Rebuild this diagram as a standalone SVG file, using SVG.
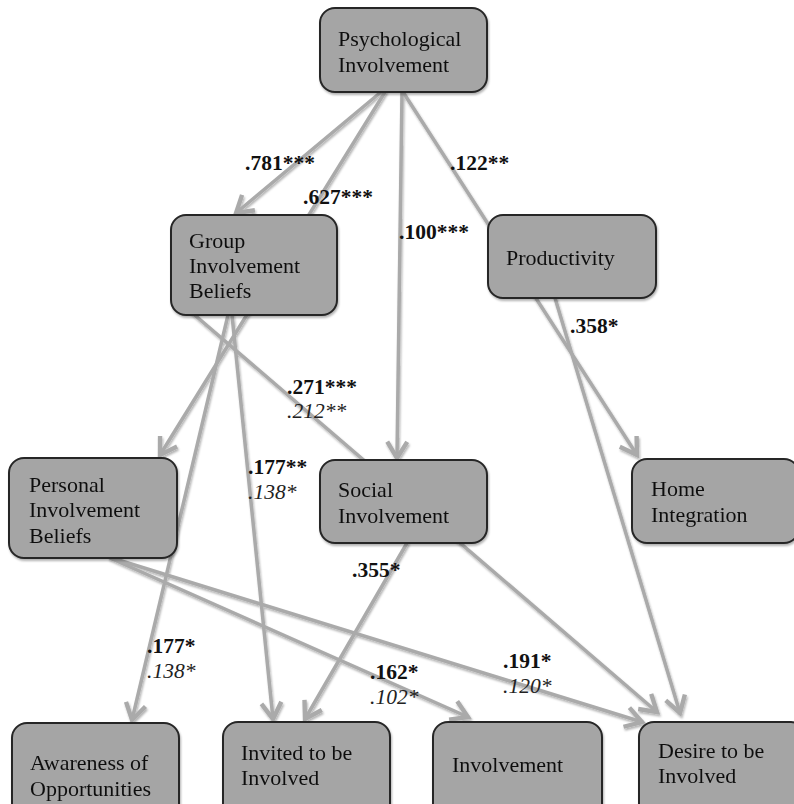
<svg xmlns="http://www.w3.org/2000/svg" width="794" height="804" viewBox="0 0 794 804">
<style>
.box{fill:#a5a5a5;stroke:#262626;stroke-width:2}
.nt{font-family:"Liberation Serif","Times New Roman",serif;font-size:22px;fill:#111}
.ln{stroke:#aaaaaa;stroke-width:3.5;fill:none;stroke-linecap:round}
.lb{font-family:"Liberation Serif","Times New Roman",serif;font-size:21.5px;font-weight:bold;fill:#111}
.li{font-family:"Liberation Serif","Times New Roman",serif;font-size:21.5px;font-style:italic;fill:#222}
</style>
<defs>
<marker id="arr" markerUnits="userSpaceOnUse" markerWidth="30" markerHeight="30" viewBox="-16 -12 20 24" refX="0" refY="0" orient="auto">
<path d="M-13,-8 L0,0 L-13,8" fill="none" stroke="#aaaaaa" stroke-width="3.5" stroke-linejoin="miter"/>
</marker>
<filter id="sh" x="-10%" y="-10%" width="130%" height="130%">
<feDropShadow dx="1" dy="2" stdDeviation="1.2" flood-color="#000" flood-opacity="0.3"/>
</filter>
</defs>
<rect width="794" height="804" fill="#fff"/>
<g id="connectors" filter="url(#sh)">
<path class="ln" d="M381,92 L236,213" marker-end="url(#arr)"/>
<path class="ln" d="M385,92 L160,455" marker-end="url(#arr)"/>
<path class="ln" d="M402,92 L397,458" marker-end="url(#arr)"/>
<path class="ln" d="M403,92 L637,455" marker-end="url(#arr)"/>
<path class="ln" d="M555,298 L680,713" marker-end="url(#arr)"/>
<path class="ln" d="M190,311 L657,712" marker-end="url(#arr)"/>
<path class="ln" d="M228,315 L132,720" marker-end="url(#arr)"/>
<path class="ln" d="M232,315 L273,719" marker-end="url(#arr)"/>
<path class="ln" d="M110,558 L468,717" marker-end="url(#arr)"/>
<path class="ln" d="M112,558 L642,722" marker-end="url(#arr)"/>
<path class="ln" d="M407,543 L305,719" marker-end="url(#arr)"/>
</g>
<g id="labels">
<text class="lb" x="245" y="170">.781***</text>
<text class="lb" x="303" y="204">.627***</text>
<text class="lb" x="399" y="239">.100***</text>
<text class="lb" x="450" y="170">.122**</text>
<text class="lb" x="570" y="333">.358*</text>
<text class="lb" x="287" y="394">.271***</text>
<text class="li" x="287" y="418">.212**</text>
<text class="lb" x="248" y="474">.177**</text>
<text class="li" x="248" y="499">.138*</text>
<text class="lb" x="352" y="577">.355*</text>
<text class="lb" x="147" y="653">.177*</text>
<text class="li" x="147" y="678">.138*</text>
<text class="lb" x="370" y="679">.162*</text>
<text class="li" x="370" y="704">.102*</text>
<text class="lb" x="503" y="668">.191*</text>
<text class="li" x="503" y="693">.120*</text>
</g>
<g id="psych" filter="url(#sh)"><rect class="box" x="320" y="8" width="167" height="84" rx="15"/><text class="nt" x="338" y="46">Psychological</text><text class="nt" x="338" y="72">Involvement</text></g>
<g id="group" filter="url(#sh)"><rect class="box" x="171" y="215" width="166" height="100" rx="15"/><text class="nt" x="189" y="248">Group</text><text class="nt" x="189" y="273">Involvement</text><text class="nt" x="189" y="298">Beliefs</text></g>
<g id="productivity" filter="url(#sh)"><rect class="box" x="488" y="215" width="168" height="83" rx="15"/><text class="nt" x="506" y="265">Productivity</text></g>
<g id="personal" filter="url(#sh)"><rect class="box" x="9" y="458" width="168" height="100" rx="15"/><text class="nt" x="29" y="492">Personal</text><text class="nt" x="29" y="517">Involvement</text><text class="nt" x="29" y="543">Beliefs</text></g>
<g id="social" filter="url(#sh)"><rect class="box" x="320" y="460" width="167" height="83" rx="15"/><text class="nt" x="338" y="497">Social</text><text class="nt" x="338" y="523">Involvement</text></g>
<g id="home" filter="url(#sh)"><rect class="box" x="632" y="459" width="167" height="84" rx="15"/><text class="nt" x="651" y="496">Home</text><text class="nt" x="651" y="522">Integration</text></g>
<g id="awareness" filter="url(#sh)"><rect class="box" x="12" y="723" width="167" height="100" rx="15"/><text class="nt" x="30" y="770">Awareness of</text><text class="nt" x="30" y="796">Opportunities</text></g>
<g id="invited" filter="url(#sh)"><rect class="box" x="223" y="722" width="167" height="100" rx="15"/><text class="nt" x="241" y="760">Invited to be</text><text class="nt" x="241" y="785">Involved</text></g>
<g id="involvement" filter="url(#sh)"><rect class="box" x="433" y="722" width="169" height="100" rx="15"/><text class="nt" x="452" y="772">Involvement</text></g>
<g id="desire" filter="url(#sh)"><rect class="box" x="639" y="722" width="167" height="100" rx="15"/><text class="nt" x="658" y="758">Desire to be</text><text class="nt" x="658" y="783">Involved</text></g>
</svg>
